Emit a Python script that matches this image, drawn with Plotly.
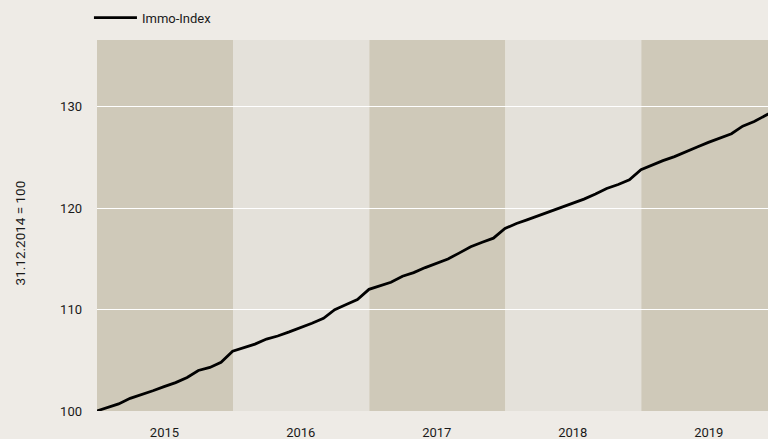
import plotly.graph_objects as go
import pandas as pd

# Month-end dates starting 31.12.2014
dates = pd.date_range("2014-12-31", periods=61, freq="ME").strftime("%Y-%m-%d").tolist()

immo_index = [
    100.0, 100.4, 100.7, 101.25, 101.6, 102.0, 102.4, 102.8, 103.3, 104.0, 104.3, 104.8,
    105.9, 106.3, 106.6, 107.1, 107.4, 107.8, 108.2, 108.65, 109.15, 110.0, 110.5, 111.0,
    112.0, 112.35, 112.7, 113.3, 113.65, 114.15, 114.6, 115.0, 115.6, 116.2, 116.65, 117.05,
    118.0, 118.5, 118.85, 119.25, 119.65, 120.05, 120.5, 120.9, 121.4, 121.95, 122.35, 122.8,
    123.8, 124.3, 124.7, 125.1, 125.6, 126.05, 126.5, 126.9, 127.35, 128.1, 128.55, 129.15,
    129.8,
]

years = ["2015", "2016", "2017", "2018", "2019"]
band_colors = ["#cfc9b9", "#e4e1da", "#cfc9b9", "#e4e1da", "#cfc9b9"]
y_ticks = [100, 110, 120, 130]
y_title = "31.12.2014 = 100"

FONT = "Roboto, sans-serif"
BG = "#eeebe6"

fig = go.Figure()
fig.add_trace(go.Scatter(
    x=dates, y=immo_index, mode="lines", name="Immo-Index",
    line=dict(color="#000000", width=2.8),
))

shapes = []
for yr, col in zip(years, band_colors):
    shapes.append(dict(
        type="rect", xref="x", yref="paper",
        x0=f"{yr}-01-01", x1=f"{int(yr)+1}-01-01", y0=0, y1=1,
        fillcolor=col, line=dict(width=0), layer="below",
    ))

fig.update_layout(
    width=768, height=439,
    margin=dict(l=97, r=0, t=40, b=28, autoexpand=False),
    paper_bgcolor=BG,
    plot_bgcolor=BG,
    shapes=shapes,
    font=dict(family=FONT, size=12, color="#1a1a1a"),
    showlegend=True,
    legend=dict(
        orientation="h", x=-0.012, xanchor="left", y=1.02, yanchor="bottom",
        bgcolor="rgba(0,0,0,0)", font=dict(size=13), itemwidth=43,
    ),
    annotations=[dict(
        text=y_title, textangle=-90, xref="paper", yref="paper",
        x=-0.1155, y=0.48, xanchor="center", yanchor="middle",
        showarrow=False, font=dict(size=13.5),
    )],
    xaxis=dict(
        range=["2015-01-01", "2019-12-07"],
        tickvals=[f"{y}-07-01" for y in years],
        ticktext=years,
        showgrid=False, zeroline=False, showline=False, ticks="",
        ticklabelstandoff=12, automargin=False,
        tickfont=dict(size=13),
    ),
    yaxis=dict(
        range=[100, 136.6],
        tickvals=y_ticks,
        ticktext=[str(v) for v in y_ticks],
        showgrid=True, gridcolor="#ffffff", gridwidth=1.2,
        zeroline=False, showline=False, ticks="",
        ticklabelstandoff=14, automargin=False,
        tickfont=dict(size=13),
    ),
)

fig.write_html(
    "out.html",
    config={"displayModeBar": False},
    post_script=(
        "document.body.style.margin='0';"
        "document.body.style.overflow='hidden';"
        "document.body.style.background='" + BG + "';"
    ),
)
